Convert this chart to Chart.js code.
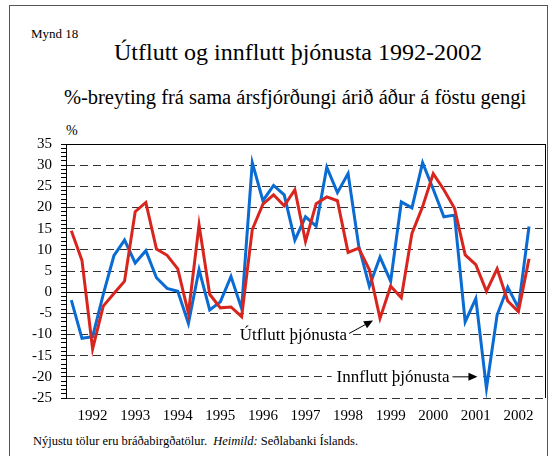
<!DOCTYPE html>
<html>
<head>
<meta charset="utf-8">
<script src="https://cdn.jsdelivr.net/npm/chart.js@4/dist/chart.umd.min.js"></script>
<style>
  html, body { margin: 0; padding: 0; background: #fff; }
  #wrap { position: relative; width: 560px; height: 456px; overflow: hidden; background: #fff;
          font-family: "Liberation Serif", "Times New Roman", serif; color: #000; }
  #frame { position: absolute; left: 9px; top: 5px; width: 539px; height: 470px; border: 1px solid #555; box-sizing: border-box; }
  .t { position: absolute; white-space: nowrap; line-height: 1; }
  #mynd { left: 31px; top: 27px; font-size: 13px; }
  #title { left: 0; width: 596px; text-align: center; top: 40px; font-size: 24px; }
  #subtitle { left: 0; width: 590px; text-align: center; top: 87px; font-size: 20.5px; }
  #pct { left: 66px; top: 124px; font-size: 14px; }
  #foot { left: 33px; top: 435px; font-size: 12.5px; }
  canvas { position: absolute; left: 0; top: 0; }
</style>
</head>
<body>
<div id="wrap">
  <div id="frame"></div>
  <div class="t" id="mynd">Mynd 18</div>
  <div class="t" id="title">Útflutt og innflutt þjónusta 1992-2002</div>
  <div class="t" id="subtitle">%-breyting frá sama ársfjórðungi árið áður á föstu gengi</div>
  <div class="t" id="pct">%</div>
  <div class="t" id="foot">Nýjustu tölur eru bráðabirgðatölur.&nbsp; <i>Heimild:</i> Seðlabanki Íslands.</div>
  <canvas id="c" width="560" height="456"></canvas>
</div>
<script>
// Quarterly categories (one trailing empty slot on the axis)
const years = ['1992','1993','1994','1995','1996','1997','1998','1999','2000','2001','2002'];
const quarters = [];
years.forEach(y => { for (let q = 1; q <= 4; q++) quarters.push(y + 'Q' + q); });
const categories = quarters.concat(['']);

// Year tick labels shown under the axis (at the 3rd slot of each year)
const yearLabelIndex = years.map((y, k) => 2 + 4 * k);

// Útflutt þjónusta (exports of services), % change, red
const utflutt = [14.5, 7.5, -13.4, -3.3, -0.3, 2.6, 19.0, 21.2, 10.2, 8.7, 5.5, -5.0,
  15.9, -0.5, -3.7, -3.5, -5.8, 14.8, 20.8, 23.0, 20.4, 24.2, 12.0, 20.9,
  22.5, 21.6, 9.4, 10.4, 5.3, -6.2, 1.4, -1.3, 13.9, 20.2, 28.0, 24.2,
  19.8, 8.8, 6.5, 0.2, 5.5, -2.1, -4.6, 7.9];

// Innflutt þjónusta (imports of services), % change, blue
const innflutt = [-1.9, -10.9, -10.5, -0.5, 8.6, 12.3, 6.9, 9.8, 3.4, 0.9, 0.2, -7.4,
  5.3, -4.2, -2.3, 3.7, -3.9, 30.6, 21.6, 25.2, 23.0, 12.3, 17.8, 15.6,
  29.5, 23.5, 28.0, 10.9, 1.4, 8.3, 2.6, 21.3, 19.9, 30.6, 24.3, 17.8,
  18.2, -7.0, -1.5, -22.7, -5.4, 1.2, -3.7, 15.5];

const yMin = -25, yMax = 35, yMajor = 5;
const labelUt = 'Útflutt þjónusta';
const labelInn = 'Innflutt þjónusta';

const serif = '"Liberation Serif", "Times New Roman", serif';

function arrow(ctx, x0, y0, x1, y1) {
  const ang = Math.atan2(y1 - y0, x1 - x0);
  const L = 9, W = 4;
  ctx.beginPath();
  ctx.moveTo(x0, y0);
  ctx.lineTo(x1 - L * 0.7 * Math.cos(ang), y1 - L * 0.7 * Math.sin(ang));
  ctx.stroke();
  ctx.beginPath();
  ctx.moveTo(x1, y1);
  ctx.lineTo(x1 - L * Math.cos(ang) + W * Math.sin(ang), y1 - L * Math.sin(ang) - W * Math.cos(ang));
  ctx.lineTo(x1 - L * Math.cos(ang) - W * Math.sin(ang), y1 - L * Math.sin(ang) + W * Math.cos(ang));
  ctx.closePath();
  ctx.fill();
}

const annotPlugin = {
  id: 'annot',
  beforeDatasetsDraw(chart) {
    const { ctx, scales: { x, y } } = chart;
    ctx.save();
    ctx.font = '17px ' + serif;
    ctx.textBaseline = 'middle';
    ctx.textAlign = 'right';
    ctx.fillStyle = '#000';
    ctx.strokeStyle = '#000';
    ctx.lineWidth = 1;

    // Útflutt label, arrow to the red trough
    let iMin = utflutt.indexOf(Math.min(...utflutt.slice(24)));
    let tipX = x.getPixelForValue(iMin) - 7, tipY = y.getPixelForValue(utflutt[iMin]) + 2;
    let ly = y.getPixelForValue(-10);
    let tx = tipX - 26;
    let w = ctx.measureText(labelUt).width;
    ctx.fillStyle = '#fff';
    ctx.fillRect(tx - w - 5, ly - 9, w + 8, 18);
    ctx.fillStyle = '#000';
    ctx.fillText(labelUt, tx, ly + 1);
    arrow(ctx, tx + 2, ly - 1, tipX, tipY);

    // Innflutt label, arrow to the blue trough
    const bMin = innflutt.indexOf(Math.min(...innflutt));
    tipX = x.getPixelForValue(bMin) - 9;
    ly = y.getPixelForValue(-20);
    tx = tipX - 28;
    w = ctx.measureText(labelInn).width;
    ctx.fillStyle = '#fff';
    ctx.fillRect(tx - w - 5, ly - 9, w + 8 + 30, 18);
    ctx.fillStyle = '#000';
    ctx.fillText(labelInn, tx, ly + 1);
    arrow(ctx, tx + 3, ly, tipX, ly);
    ctx.restore();
  },
  afterDraw(chart) {
    const { ctx, chartArea: a } = chart;
    ctx.save();
    ctx.strokeStyle = '#000';
    ctx.lineWidth = 1;
    ctx.beginPath();
    ctx.moveTo(Math.round(a.right) + 0.5, a.top);
    ctx.lineTo(Math.round(a.right) + 0.5, a.bottom);
    ctx.stroke();
    ctx.restore();
  }
};

Chart.defaults.font.family = serif;
Chart.defaults.color = '#000';

new Chart(document.getElementById('c'), {
  type: 'line',
  data: {
    labels: categories,
    datasets: [
      { label: labelUt, data: utflutt, borderColor: '#d8261f', borderWidth: 3, pointRadius: 0, tension: 0, fill: false },
      { label: labelInn, data: innflutt, borderColor: '#0a6bd2', borderWidth: 3, pointRadius: 0, tension: 0, fill: false }
    ]
  },
  options: {
    responsive: false,
    animation: false,
    events: [],
    layout: { padding: { left: 0, right: 15, top: 144, bottom: 28 } },
    plugins: { legend: { display: false }, tooltip: { enabled: false }, title: { display: false } },
    scales: {
      x: {
        type: 'category',
        offset: true,
        grid: { display: false, drawTicks: false },
        border: { display: false },
        ticks: {
          autoSkip: false, maxRotation: 0, minRotation: 0, padding: 9,
          font: { size: 15 },
          callback: function (v, i) {
            const k = yearLabelIndex.indexOf(i);
            return k >= 0 ? years[k] : '';
          }
        },
        afterFit: s => { s.height = 30; }
      },
      y: {
        min: yMin, max: yMax,
        afterFit: s => { s.width = 66; },
        ticks: {
          stepSize: 1, autoSkip: false, padding: 9,
          font: { size: 15 },
          callback: v => (v % yMajor === 0 ? String(v) : '')
        },
        grid: {
          drawTicks: true, tickLength: 5,
          tickColor: '#000', tickWidth: 1,
          lineWidth: 1,
          color: c => {
            const v = c.tick.value;
            if (v % yMajor !== 0) return 'rgba(0,0,0,0)';
            if (v === 0 || v === yMax) return '#000';
            return '#333';
          }
        },
        border: {
          display: true, color: '#000', width: 1,
          dash: c => {
            const v = c.tick ? c.tick.value : null;
            return (v === 0 || v === yMax) ? [] : [8, 5];
          }
        }
      }
    }
  },
  plugins: [annotPlugin]
});
</script>
</body>
</html>
